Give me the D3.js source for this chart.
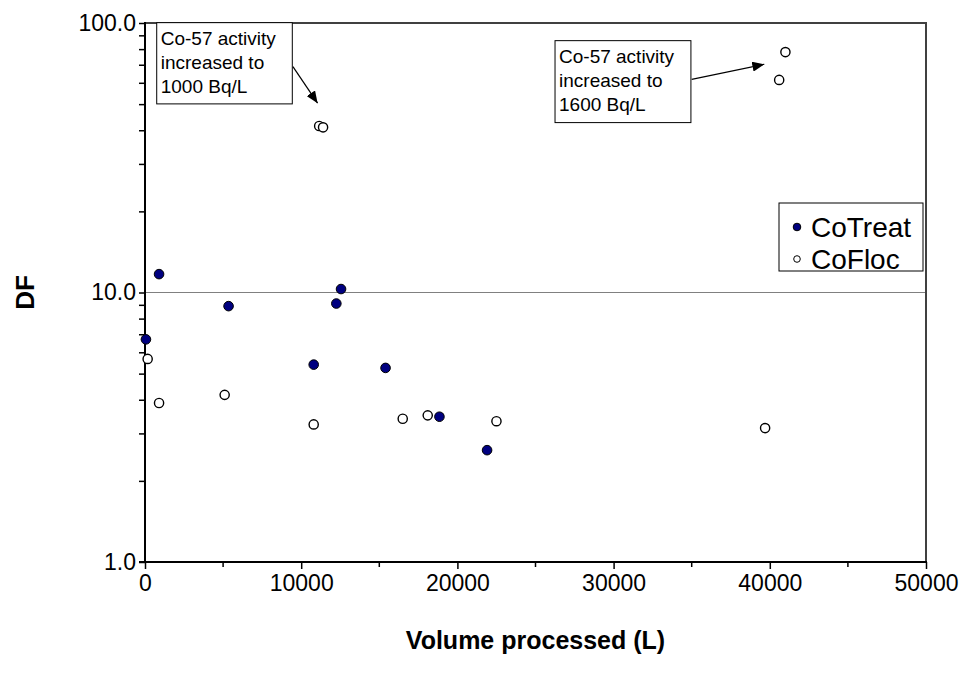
<!DOCTYPE html>
<html>
<head>
<meta charset="utf-8">
<script src="https://cdn.jsdelivr.net/npm/d3@7"></script>
<style>
  body { margin: 0; background: #fff; }
  svg { display: block; font-family: Arial, "Liberation Sans", sans-serif; }
</style>
</head>
<body>
<svg id="chart" width="968" height="682"></svg>
<script>
// data
var treatVolume = [60, 900, 5350, 10800, 12250, 12550, 15400, 18850, 21900];
var treatDF     = [6.7, 11.7, 8.9, 5.4, 9.1, 10.3, 5.25, 3.46, 2.6];

var flocVolume  = [170, 900, 5100, 10800, 11150, 11400, 16500, 18100, 22500, 39700, 40600, 41000];
var flocDF      = [5.67, 3.89, 4.17, 3.24, 41.5, 41.0, 3.4, 3.5, 3.33, 3.14, 61.5, 78];

var xTickLabels = [0, 10000, 20000, 30000, 40000, 50000];
var xMinorTicks = [5000, 15000, 25000, 35000, 45000];
var yTickLabels = [1, 10, 100];

var seriesNames = ["CoTreat", "CoFloc"];

var notes = [
    {lines: ["Co-57 activity", "increased to", "1000 Bq/L"], x0: 750, x1: 9430, y0: 100.3, y1: 50.1,
     from: [9470, 68.9], to: [11050, 50.4]},
    {lines: ["Co-57 activity", "increased to", "1600 Bq/L"], x0: 26250, x1: 34950, y0: 86, y1: 42.7,
     from: [35000, 61.8], to: [39650, 70.3]}
];

var width = 968,
    height = 682,
    pLeft = 145, pRight = 926, pTop = 23, pBottom = 562;

var svg = d3.select("#chart");

svg.append("rect").attr("width", width).attr("height", height).attr("fill", "#fff");

var x = d3.scaleLinear().domain([0, 50000]).range([pLeft, pRight]);
var y = d3.scaleLog().domain([1, 100]).range([pBottom, pTop]);

// gridline at 10
svg.append("line")
    .attr("x1", pLeft).attr("x2", pRight)
    .attr("y1", y(10)).attr("y2", y(10))
    .attr("stroke", "#808080").attr("stroke-width", 1);

// frame top/right
svg.append("path")
    .attr("d", "M" + pLeft + "," + pTop + "H" + pRight + "V" + pBottom)
    .attr("fill", "none").attr("stroke", "#404040").attr("stroke-width", 2);

// y axis with minor log ticks
var yAxis = d3.axisLeft(y)
    .tickValues(y.ticks())
    .tickSize(6)
    .tickFormat(function (d) {
        return yTickLabels.indexOf(d) !== -1 ? d3.format(".1f")(d) : "";
    });
var gy = svg.append("g").attr("transform", "translate(" + pLeft + ",0)").call(yAxis);
gy.select(".domain").attr("stroke", "#000").attr("stroke-width", 2).attr("d", "M0," + (pTop - 1) + "V" + (pBottom + 1));
gy.selectAll(".tick line").attr("stroke", "#000").attr("stroke-width", 1.5);
gy.selectAll(".tick text").attr("font-size", 23).attr("fill", "#000").attr("x", -9)
    .style("font-family", "Arial, 'Liberation Sans', sans-serif");

// x axis
var xAxis = d3.axisBottom(x).tickValues(xTickLabels).tickSize(7).tickFormat(d3.format("d"));
var gx = svg.append("g").attr("transform", "translate(0," + pBottom + ")").call(xAxis);
gx.select(".domain").attr("stroke", "#000").attr("stroke-width", 2).attr("d", "M" + (pLeft - 6) + ",0H" + (pRight + 1));
gx.selectAll(".tick line").attr("stroke", "#000").attr("stroke-width", 1.5);
gx.selectAll(".tick text").attr("font-size", 23).attr("fill", "#000").attr("y", 13)
    .style("font-family", "Arial, 'Liberation Sans', sans-serif");

gx.selectAll(".minor").data(xMinorTicks).enter().append("line")
    .attr("x1", function (d) { return x(d); }).attr("x2", function (d) { return x(d); })
    .attr("y1", 0).attr("y2", 5)
    .attr("stroke", "#000").attr("stroke-width", 1.5);

// axis titles
svg.append("text")
    .attr("x", (pLeft + pRight) / 2).attr("y", 649)
    .attr("text-anchor", "middle").attr("font-size", 25).attr("font-weight", "bold")
    .text("Volume processed (L)");

svg.append("text")
    .attr("transform", "translate(34," + ((pTop + pBottom) / 2) + ") rotate(-90)")
    .attr("text-anchor", "middle").attr("font-size", 26).attr("font-weight", "bold")
    .text("DF");

// points
var floc = d3.zip(flocVolume, flocDF);
var treat = d3.zip(treatVolume, treatDF);

svg.append("g").selectAll("circle").data(floc).enter().append("circle")
    .attr("cx", function (d) { return x(d[0]); })
    .attr("cy", function (d) { return y(d[1]); })
    .attr("r", 4.6)
    .attr("fill", "#fff").attr("stroke", "#000").attr("stroke-width", 1.4);

svg.append("g").selectAll("circle").data(treat).enter().append("circle")
    .attr("cx", function (d) { return x(d[0]); })
    .attr("cy", function (d) { return y(d[1]); })
    .attr("r", 4.8)
    .attr("fill", "#000080").attr("stroke", "#000").attr("stroke-width", 1);

// arrow head
svg.append("defs").append("marker")
    .attr("id", "arrow")
    .attr("viewBox", "0 0 12 10")
    .attr("refX", 12).attr("refY", 5)
    .attr("markerWidth", 12).attr("markerHeight", 10)
    .attr("markerUnits", "userSpaceOnUse")
    .attr("orient", "auto")
    .append("path").attr("d", "M0,0L12,5L0,10Z").attr("fill", "#000");

// annotations
var note = svg.append("g").selectAll("g").data(notes).enter().append("g");
note.append("rect")
    .attr("x", function (d) { return x(d.x0); })
    .attr("y", function (d) { return y(d.y0); })
    .attr("width", function (d) { return x(d.x1) - x(d.x0); })
    .attr("height", function (d) { return y(d.y1) - y(d.y0); })
    .attr("fill", "#fff").attr("stroke", "#000").attr("stroke-width", 1);
note.each(function (d) {
    var g = d3.select(this);
    d.lines.forEach(function (t, i) {
        g.append("text")
            .attr("x", x(d.x0) + 4)
            .attr("y", y(d.y0) + 22 + i * 24)
            .attr("font-size", 19)
            .text(t);
    });
});
note.append("line")
    .attr("x1", function (d) { return x(d.from[0]); })
    .attr("y1", function (d) { return y(d.from[1]); })
    .attr("x2", function (d) { return x(d.to[0]); })
    .attr("y2", function (d) { return y(d.to[1]); })
    .attr("stroke", "#000").attr("stroke-width", 1.2)
    .attr("marker-end", "url(#arrow)");

// legend
var legend = svg.append("g");
legend.append("rect")
    .attr("x", 779).attr("y", 203).attr("width", 144).attr("height", 68)
    .attr("fill", "#fff").attr("stroke", "#000").attr("stroke-width", 1);
var item = legend.selectAll(".item").data(seriesNames).enter().append("g")
    .attr("transform", function (d, i) { return "translate(797," + (227 + i * 32) + ")"; });
item.append("circle")
    .attr("r", function (d, i) { return i === 0 ? 3.8 : 3.3; })
    .attr("fill", function (d, i) { return i === 0 ? "#000080" : "#fff"; })
    .attr("stroke", "#000").attr("stroke-width", 1);
item.append("text")
    .attr("x", 14).attr("y", 10)
    .attr("font-size", 28)
    .text(function (d) { return d; });
</script>
</body>
</html>
